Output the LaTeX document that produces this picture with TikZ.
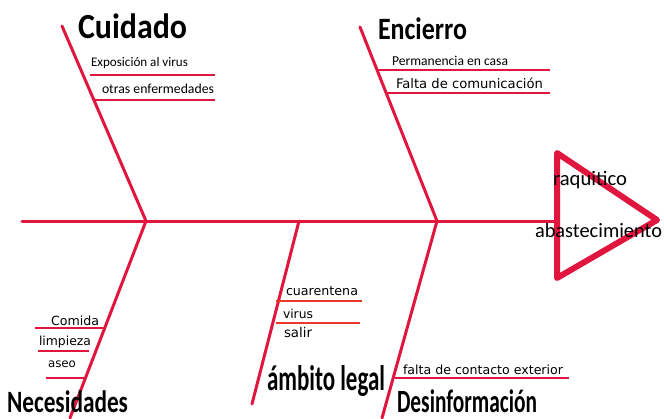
\documentclass[tikz,border=0pt]{standalone}
\usepackage{fontspec}
\usepackage{graphicx}
\setmainfont{Carlito}
\newfontfamily\vfont{DejaVu Sans}
\definecolor{bonered}{RGB}{224,22,62}
\definecolor{orred}{RGB}{232,58,40}
\newcommand{\fitwh}[3]{\resizebox*{#1}{#2}{#3}}
\newcommand{\fitw}[2]{\resizebox{#1}{!}{#2}}
\begin{document}
\begin{tikzpicture}[x=1pt,y=-1pt,
  bone/.style={draw=bonered,line width=3pt,line cap=round},
  subbone/.style={draw=bonered,line width=2.6pt},
  subor/.style={draw=orred,line width=2.6pt},
  lbl/.style={inner sep=0pt,outer sep=0pt,anchor=base west,text=black}]
\useasboundingbox (0,0) rectangle (664,418);
% key points
\coordinate (tail) at (22,221);
\coordinate (head) at (557,221);
\coordinate (j1) at (146,221);
\coordinate (j2) at (299,221);
\coordinate (j3) at (437,221);
\coordinate (cuTop) at (62,26);
\coordinate (neBot) at (70,418);
\coordinate (amBot) at (252,404);
\coordinate (enTop) at (360,27);
\coordinate (deBot) at (382,418);
% spine and bones
\draw[bone] (tail) -- (head);
\draw[bone] (cuTop) -- (j1) -- (neBot);
\draw[bone] (j2) -- (amBot);
\draw[bone] (enTop) -- (j3) -- (deBot);
% head triangle
\coordinate (t1) at (557,153);
\coordinate (t2) at (657,220);
\coordinate (t3) at (557,278);
\draw[draw=bonered,line width=6pt,line join=round] (t1) -- (t2) -- (t3) -- cycle;
% sub-bone lines
\coordinate (c1a) at (90,75);  \coordinate (c1b) at (215,75);
\coordinate (c2a) at (94,100); \coordinate (c2b) at (215,100);
\coordinate (e1a) at (378,70); \coordinate (e1b) at (550,70);
\coordinate (e2a) at (386,93); \coordinate (e2b) at (550,93);
\coordinate (n1a) at (35,328); \coordinate (n1b) at (104,328);
\coordinate (n2a) at (38,351); \coordinate (n2b) at (89,351);
\coordinate (n3a) at (46,378); \coordinate (n3b) at (85,378);
\coordinate (a1a) at (276,301); \coordinate (a1b) at (362,301);
\coordinate (a2a) at (276,323); \coordinate (a2b) at (360,323);
\coordinate (d1a) at (395,378); \coordinate (d1b) at (569,378);
\draw[subbone] (c1a) -- (c1b);
\draw[subbone] (c2a) -- (c2b);
\draw[subbone] (e1a) -- (e1b);
\draw[subbone] (e2a) -- (e2b);
\draw[subbone] (n1a) -- (n1b);
\draw[subbone] (n2a) -- (n2b);
\draw[subbone] (n3a) -- (n3b);
\draw[subor] (a1a) -- (a1b);
\draw[subor] (a2a) -- (a2b);
\draw[subbone] (d1a) -- (d1b);
% titles
\node[lbl] (cuidado) at (78,38) {\fitwh{109pt}{25pt}{\bfseries Cuidado}};
\node[lbl] (encierro) at (378,39) {\fitwh{89pt}{22pt}{\bfseries Encierro}};
\node[lbl] (necesidades) at (7,412) {\fitwh{121pt}{22pt}{\bfseries Necesidades}};
\node[lbl] (desinfo) at (397,412) {\fitwh{140pt}{23pt}{\bfseries Desinformación}};
\node[lbl] (ambito) at (267,390) {\fitwh{118pt}{31pt}{\bfseries ámbito legal}};
% small labels
\node[lbl] (expo) at (91,66) {\fitw{97pt}{Exposición al virus}};
\node[lbl] (otras) at (102,93) {\fitw{112pt}{otras enfermedades}};
\node[lbl] (perm) at (392,65) {\fitw{116pt}{Permanencia en casa}};
\node[lbl] (falta) at (396,88) {\fitw{147pt}{\vfont Falta de comunicación}};
\node[lbl] (raq) at (553,185) {\fitw{74pt}{raquitico}};
\node[lbl] (abas) at (535,237) {\fitw{127pt}{abastecimiento}};
\node[lbl] (comida) at (51,325) {\fitw{48pt}{\vfont Comida}};
\node[lbl] (limp) at (39,345) {\fitw{52pt}{\vfont limpieza}};
\node[lbl] (aseo) at (48,367) {\fitw{28pt}{\vfont aseo}};
\node[lbl] (cuar) at (286,295) {\fitw{72pt}{\vfont cuarentena}};
\node[lbl] (virus) at (283,318) {\fitw{30pt}{\vfont virus}};
\node[lbl] (salir) at (284,337) {\fitw{28pt}{\vfont salir}};
\node[lbl] (fce) at (403,374) {\fitw{160pt}{\vfont falta de contacto exterior}};
\end{tikzpicture}
\end{document}
